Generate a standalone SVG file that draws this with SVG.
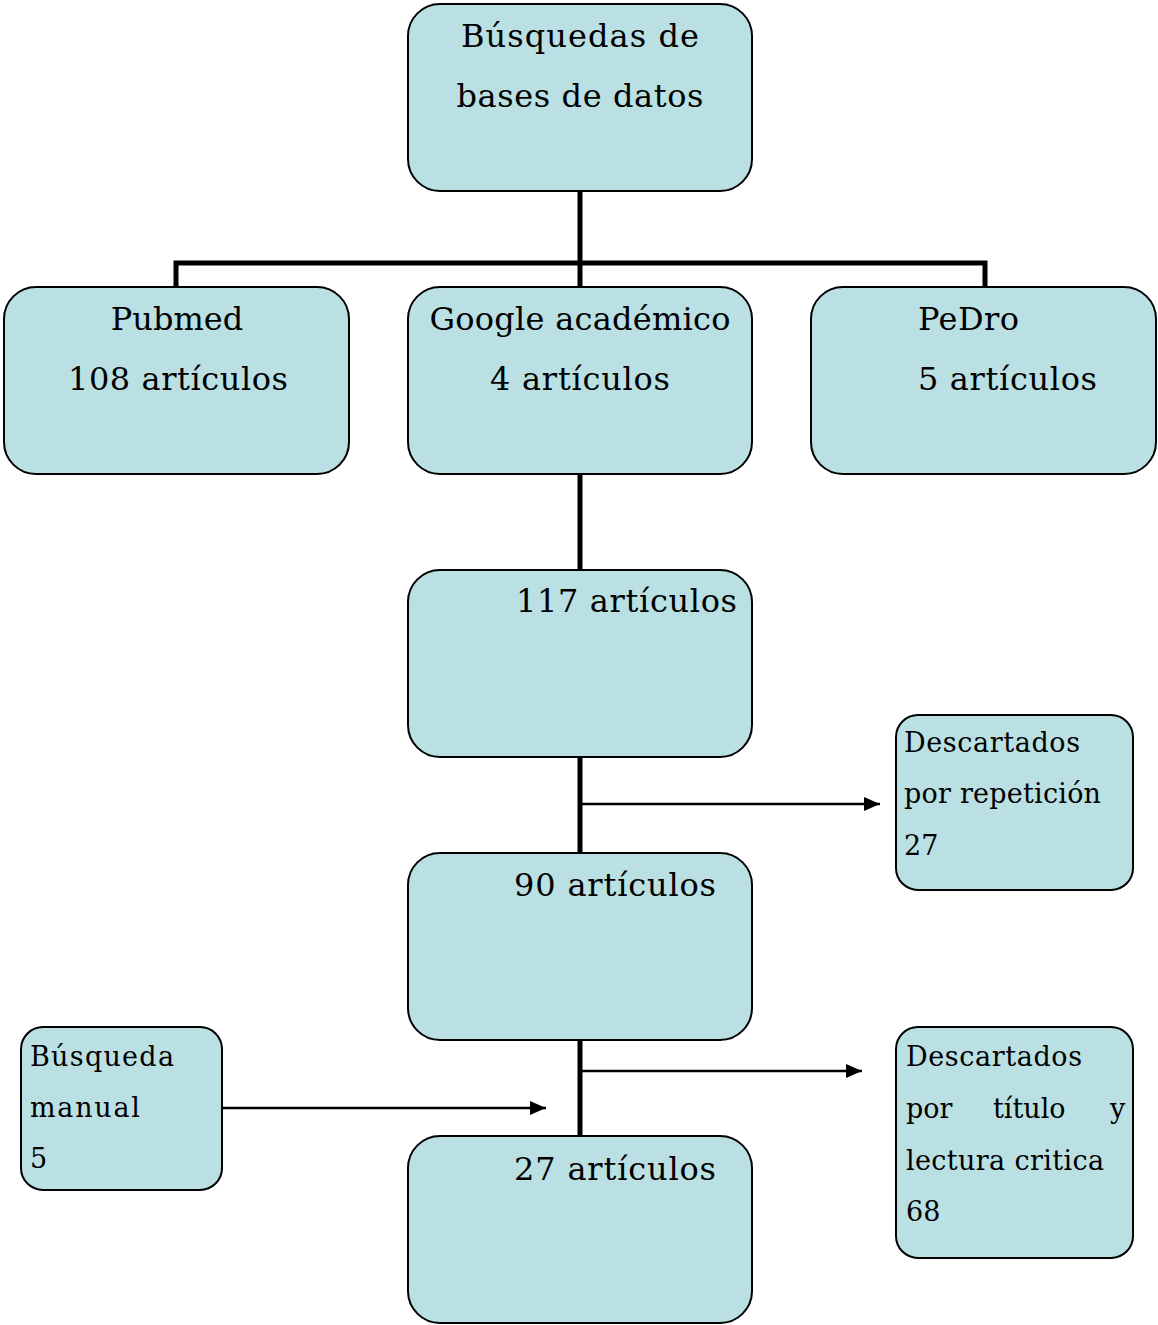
<svg xmlns="http://www.w3.org/2000/svg" width="1158" height="1325" viewBox="0 0 1158 1325">
<defs>
<marker id="ah" markerWidth="16" markerHeight="14" refX="16" refY="7" orient="auto" markerUnits="userSpaceOnUse">
<path d="M0,0 L16,7 L0,14 Z" fill="#000"/>
</marker>
<style>
.box{fill:#BAE0E3;stroke:#000;stroke-width:2}
.big{font-family:"DejaVu Serif","Liberation Serif",serif;font-size:32px;fill:#000}
.sm{font-family:"DejaVu Serif","Liberation Serif",serif;font-size:27px;fill:#000}
.mid{text-anchor:middle}
.thick{stroke:#000;stroke-width:5;fill:none}
.thin{stroke:#000;stroke-width:2.5;fill:none}
</style>
</defs>
<rect width="1158" height="1325" fill="#fff"/>
<g id="connectors">
<path class="thick" d="M580,191 V287 M176,287 V263 H985 V287"/>
<path class="thick" d="M580,474 V570"/>
<path class="thick" d="M580,757 V853"/>
<path class="thick" d="M580,1040 V1136"/>
<path class="thin" d="M582,804 H880" marker-end="url(#ah)"/>
<path class="thin" d="M582,1071 H862" marker-end="url(#ah)"/>
<path class="thin" d="M222,1108 H546" marker-end="url(#ah)"/>
</g>
<g id="n-busquedas">
<rect class="box" x="408" y="4" width="344" height="187" rx="32"/>
<text class="big mid" x="580" y="47" textLength="238">Búsquedas de</text>
<text class="big mid" x="580" y="107" textLength="247">bases de datos</text>
</g>
<g id="n-pubmed">
<rect class="box" x="4" y="287" width="345" height="187" rx="32"/>
<text class="big mid" x="177" y="330">Pubmed</text>
<text class="big mid" x="178" y="390" textLength="220">108 artículos</text>
</g>
<g id="n-google">
<rect class="box" x="408" y="287" width="344" height="187" rx="32"/>
<text class="big mid" x="580" y="330" textLength="301">Google académico</text>
<text class="big mid" x="580" y="390" textLength="180">4 artículos</text>
</g>
<g id="n-pedro">
<rect class="box" x="811" y="287" width="345" height="187" rx="32"/>
<text class="big" x="918" y="330" textLength="101">PeDro</text>
<text class="big" x="918" y="390" textLength="179">5 artículos</text>
</g>
<g id="n-117">
<rect class="box" x="408" y="570" width="344" height="187" rx="32"/>
<text class="big" x="516" y="612" textLength="221">117 artículos</text>
</g>
<g id="n-90">
<rect class="box" x="408" y="853" width="344" height="187" rx="32"/>
<text class="big" x="514" y="896" textLength="202">90 artículos</text>
</g>
<g id="n-27">
<rect class="box" x="408" y="1136" width="344" height="187" rx="32"/>
<text class="big" x="514" y="1180" textLength="202">27 artículos</text>
</g>
<g id="n-descartados-rep">
<rect class="box" x="896" y="715" width="237" height="175" rx="22"/>
<text class="sm" x="904" y="752" textLength="176">Descartados</text>
<text class="sm" x="904" y="803" textLength="197">por repetición</text>
<text class="sm" x="904" y="855">27</text>
</g>
<g id="n-descartados-tit">
<rect class="box" x="896" y="1027" width="237" height="231" rx="22"/>
<text class="sm" x="906" y="1066" textLength="176">Descartados</text>
<text class="sm" x="906" y="1118">por</text>
<text class="sm" x="993" y="1118">título</text>
<text class="sm" x="1110" y="1118">y</text>
<text class="sm" x="906" y="1170" textLength="198">lectura critica</text>
<text class="sm" x="906" y="1221">68</text>
</g>
<g id="n-manual">
<rect class="box" x="21" y="1027" width="201" height="163" rx="22"/>
<text class="sm" x="30" y="1066" textLength="144">Búsqueda</text>
<text class="sm" x="30" y="1117" textLength="110">manual</text>
<text class="sm" x="30" y="1168">5</text>
</g>
</svg>
